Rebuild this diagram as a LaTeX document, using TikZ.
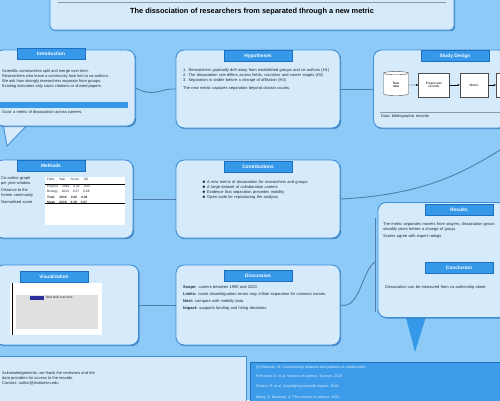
\documentclass[tikz,border=0pt]{standalone}
\usepackage{fontspec}
\setmainfont{Liberation Sans}
\usepackage{xcolor}
\usepackage{tikz}
\usetikzlibrary{
  shapes.geometric,
  arrows.meta,
  positioning,
  shadows,
  calc
}
\definecolor{bgBlue}{HTML}{8DCAF7}
\definecolor{panelFill}{HTML}{D5EBFC}
\definecolor{panelStroke}{HTML}{3F8ED8}
\definecolor{shadowBlue}{HTML}{2F6FB0}
\definecolor{tabFill}{HTML}{3598E9}
\definecolor{tabStroke}{HTML}{1F6FC0}
\definecolor{linkClr}{HTML}{4F7FA8}
\definecolor{bodyTxt}{HTML}{1C2A3A}
\definecolor{ruleGray}{HTML}{8C98A4}
\definecolor{refFill}{HTML}{3D9CEA}
\definecolor{barPurp}{HTML}{2B2F9E}
\tikzset{
  panel/.style={
    rectangle, rounded corners=8pt, draw=panelStroke, fill=panelFill,
    line width=0.9pt,
    drop shadow={shadow xshift=1.2pt, shadow yshift=-1.2pt,
      fill=shadowBlue, opacity=0.7}
  },
  tab/.style={
    rectangle, fill=tabFill, draw=tabStroke, text=white, line width=0.5pt,
    minimum width=68pt, minimum height=11pt, inner sep=1pt,
    font=\fontsize{4.8}{5}\selectfont\bfseries
  },
  bodytxt/.style={
    align=left, text=bodyTxt, inner sep=0pt,
    font=\fontsize{4}{5.2}\selectfont
  },
  flowbox/.style={
    rectangle, draw=black!70, fill=white, line width=0.4pt,
    minimum width=28pt, minimum height=24pt, align=center,
    font=\fontsize{3.2}{3.8}\selectfont
  },
  flowarr/.style={-{Stealth[length=2.5pt,width=2pt]}, line width=0.4pt},
  link/.style={draw=linkClr, line width=0.9pt}
}

\begin{document}
\begin{tikzpicture}[x=1pt,y=-1pt]
  \fill[bgBlue] (0,0) rectangle (500,400);
  \useasboundingbox (0,0) rectangle (500,400);

  % title
  \node[panel, rounded corners=4pt, minimum width=404pt, minimum height=36pt]
    (titlebox) at (252,12) {};
  \draw[ruleGray, line width=0.6pt]
    ([xshift=8pt,yshift=-9pt]titlebox.north west) --
    ([xshift=-8pt,yshift=-9pt]titlebox.north east);
  \node[font=\fontsize{7.4}{8}\selectfont\bfseries] (title) at (252,12)
    {The dissociation of researchers from separated through a new metric};

  % speech tails (behind panels)
  \coordinate (introTip) at (7,146);
  \fill[panelFill, draw=panelStroke, line width=0.9pt]
    (2,118) -- (introTip) -- (34,118) -- cycle;
  \coordinate (resTip) at (415,352);
  \fill[tabFill] (404,310) -- (resTip) -- (428,310) -- cycle;

  % panels
  \node[panel, minimum width=140pt, minimum height=76pt] (intro) at (65,88) {};
  \node[panel, minimum width=164pt, minimum height=78pt] (hypo) at (258,89) {};
  \node[panel, minimum width=133pt, minimum height=78pt] (design) at (440,89) {};
  \node[panel, minimum width=138pt, minimum height=78pt] (methods) at (64,199) {};
  \node[panel, minimum width=164pt, minimum height=78pt] (contrib) at (258,199) {};
  \node[panel, minimum width=128pt, minimum height=115pt] (results) at (442,260) {};
  \node[panel, minimum width=143pt, minimum height=80pt] (visual) at (67,305) {};
  \node[panel, minimum width=164pt, minimum height=80pt] (discuss) at (258,305) {};
  \node[rectangle, fill=panelFill, draw=panelStroke, line width=0.6pt,
        minimum width=252pt, minimum height=50pt] (notes) at (120,381) {};
  \node[rectangle, fill=refFill, draw=tabStroke, line width=0.6pt,
        minimum width=256pt, minimum height=44pt] (refs) at (378,384) {};

  % tabs
  \node[tab] (introTab) at (51,54) {Introduction};
  \node[tab] (hypoTab) at (258,56) {Hypotheses};
  \node[tab] (designTab) at (455,56) {Study Design};
  \node[tab] (methodsTab) at (51,166) {Methods};
  \node[tab] (contribTab) at (258,167) {Contributions};
  \node[tab] (resultsTab) at (459,210) {Results};
  \node[tab] (conclTab) at (459,268) {Conclusion};
  \node[tab] (visualTab) at (54,277) {Visualization};
  \node[tab] (discussTab) at (258,276) {Discussion};

  % introduction
  \node[bodytxt, anchor=north west] (introTxt) at (2,69)
    {Scientific communities split and merge over time.\\
     Researchers who leave a community lose ties to co-authors.\\
     We ask how strongly researchers separate from groups.\\
     Existing indicators only count citations or shared papers.};
  \node[rectangle, fill=tabFill, minimum width=128pt, minimum height=6pt,
        inner sep=0pt, anchor=north west] (introBar) at (0,102) {};
  \node[bodytxt, anchor=north west] (introNote) at (2,110)
    {Goal: a metric of dissociation across careers.};

  % hypotheses
  \node[bodytxt, anchor=north west, text width=150pt] (hypoTxt) at (183,68)
    {1. Researchers gradually drift away from established groups
        and co-authors (H1)\\
     2. The dissociation rate differs across fields, countries and
        career stages (H2)\\
     3. Separation is visible before a change of affiliation (H3)\\[3pt]
     The new metric captures separation beyond citation counts.};

  % study design
  \node[flowbox, shape=cylinder, shape border rotate=90, aspect=0.25,
        minimum width=25pt] (fbData) at (396,85) {Raw\\data};
  \node[flowbox, minimum width=31pt] (fbPrep) at (434,85) {Preprocess\\records};
  \node[flowbox] (fbMetric) at (474,85) {Metric};
  \node[flowbox, anchor=west] (fbEval) at (496,85) {};
  \draw[flowarr] (fbData) -- (fbPrep);
  \draw[flowarr] (fbPrep) -- (fbMetric);
  \draw[flowarr] (fbMetric) -- (fbEval);
  \draw[ruleGray, line width=0.5pt] (380,112) -- (500,112);
  \node[bodytxt, anchor=north west] (designTxt) at (381,114)
    {Data: bibliographic records};

  % methods
  \node[bodytxt, anchor=north west] (methodsTxt) at (1,176)
    {Co-author graph\\per year window\\[2pt]
     Distance to the\\former community\\[2pt]
     Normalised score};
  \node[rectangle, fill=white, minimum width=80pt, minimum height=48pt,
        inner sep=0pt] (methTab) at (85,201) {};
  \draw[black, line width=0.6pt]
    ([yshift=-7pt]methTab.north west) -- ([yshift=-7pt]methTab.north east);
  \draw[black, line width=0.6pt]
    ([yshift=-26pt]methTab.north west) -- ([yshift=-26pt]methTab.north east);
  \node[bodytxt, font=\fontsize{3.2}{4.8}\selectfont, anchor=north west]
    (methTabTxt) at (47,178)
    {Field \quad\ Year \quad\ Score \quad\ SD\\[2pt]
     Physics \quad 2010 \quad 0.42 \quad 0.05\\
     Biology \quad 2014 \quad 0.37 \quad 0.08\\[2pt]
     \textbf{Total \quad\ 2018 \quad 0.40 \quad 0.06}\\
     \textbf{Mean \quad 2019 \quad 0.39 \quad 0.07}};

  % contributions
  \node[bodytxt, anchor=north west, text width=118pt] (contribTxt) at (202,180)
    {$\bullet$ A new metric of dissociation for
        researchers and groups\\
     $\bullet$ A large dataset of collaboration careers\\
     $\bullet$ Evidence that separation precedes
        mobility\\
     $\bullet$ Open code for reproducing the analysis};

  % visualization
  \node[rectangle, fill=white, minimum width=92pt, minimum height=52pt,
        inner sep=0pt] (chart) at (56,309) {};
  \fill[black!12] ([xshift=6pt,yshift=-12pt]chart.north west)
    rectangle ([xshift=-4pt,yshift=6pt]chart.south east);
  \draw[black, line width=0.7pt]
    ([xshift=3pt]chart.north west) -- ([xshift=3pt]chart.south west);
  \fill[barPurp] ([xshift=20pt,yshift=-13pt]chart.north west)
    rectangle ++(14pt,-4pt);
  \node[bodytxt, font=\fontsize{3.2}{3.8}\selectfont, anchor=west]
    (chartLbl) at ([xshift=36pt,yshift=-15pt]chart.north west)
    {field shift over time};

  % discussion
  \node[bodytxt, anchor=north west, text width=150pt] (discussTxt) at (183,285)
    {\textbf{Scope:} careers between 1990 and 2020.\\[2pt]
     \textbf{Limits:} name disambiguation errors may inflate separation
     for common names.\\[2pt]
     \textbf{Next:} compare with mobility data.\\[2pt]
     \textbf{Impact:} supports funding and hiring decisions.};

  % results and conclusion
  \draw[linkClr, line width=0.9pt] (375,218) -- (375,312);
  \node[bodytxt, anchor=north west, text width=115pt] (resultsTxt) at (383,222)
    {The metric separates movers from stayers; dissociation grows
     steadily years before a change of group.\\[2pt]
     Scores agree with expert ratings.};
  \node[bodytxt, anchor=north west, text width=112pt] (conclTxt) at (385,285)
    {Dissociation can be measured from co-authorship alone.};

  % notes and references
  \node[bodytxt, anchor=north west] (notesTxt) at (2,371)
    {Acknowledgements: we thank the reviewers and the\\
     data providers for access to the records.\\
     Contact: author@institution.edu};
  \node[bodytxt, text=white!85!refFill, anchor=north west,
        font=\fontsize{3.6}{7}\selectfont] (refsTxt) at (256,366)
    {[1] Newman, M. Coauthorship networks and patterns of collaboration.\\
     [2] Fortunato, S. et al. Science of science. Science, 2018.\\
     [3] Sinatra, R. et al. Quantifying scientific impact. 2016.\\
     [4] Wang, D. Barabasi, A. The science of science. 2021.};

  % connectors
  \coordinate (outEdge) at (500,150);
  \draw[link] (intro.east) .. controls (155,98) and (160,88) .. (hypo.west);
  \draw[link] (hypo.east) -- (design.west);
  \draw[link] (methods.east) -- (contrib.west);
  \draw[link] (contrib.east) .. controls (420,195) and (460,175) .. (outEdge);
  \draw[link] (visual.east) -- (discuss.west);
  \draw[link] (discuss.east) .. controls (360,310) and (362,270) .. (375,262);
\end{tikzpicture}
\end{document}
